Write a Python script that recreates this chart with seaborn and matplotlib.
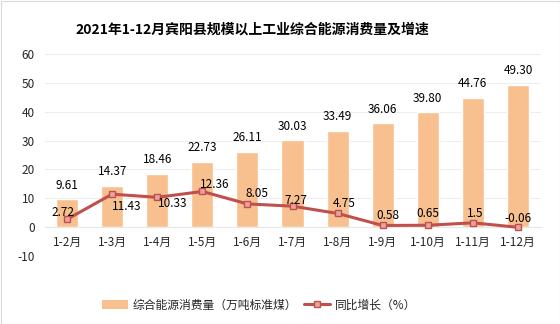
import numpy as np
import pandas as pd
import matplotlib
matplotlib.use("Agg")
import matplotlib.pyplot as plt
import seaborn as sns
from matplotlib.lines import Line2D
from matplotlib.patches import Patch

categories = ["1-2月", "1-3月", "1-4月", "1-5月", "1-6月", "1-7月", "1-8月", "1-9月", "1-10月", "1-11月", "1-12月"]
consumption = [9.61, 14.37, 18.46, 22.73, 26.11, 30.03, 33.49, 36.06, 39.80, 44.76, 49.30]
consumption_labels = ["9.61", "14.37", "18.46", "22.73", "26.11", "30.03", "33.49", "36.06", "39.80", "44.76", "49.30"]
growth = [2.72, 11.43, 10.33, 12.36, 8.05, 7.27, 4.75, 0.58, 0.65, 1.5, -0.06]
growth_labels = ["2.72", "11.43", "10.33", "12.36", "8.05", "7.27", "4.75", "0.58", "0.65", "1.5", "-0.06"]
# label offsets in pixels (dx, dy up) for growth labels
growth_offsets = [(-4, 7), (15, -12), (15, -6), (12, 7), (10, 10), (3, 6), (7, 10), (5, 10), (0, 12), (2, 9), (0, 9)]
yticks = [-10, 0, 10, 20, 30, 40, 50, 60]

title = "2021年1-12月宾阳县规模以上工业综合能源消费量及增速"
bar_name = "综合能源消费量（万吨标准煤）"
line_name = "同比增长（%）"

sns.set_theme(style="white")
plt.rcParams["font.family"] = ["Noto Sans CJK SC", "DejaVu Sans"]

BAR_C = "#F8C08F"
LINE_C = "#C0504D"
TXT_C = "#262626"

df = pd.DataFrame({"cat": categories, "val": consumption, "g": growth})
df["pos"] = np.arange(len(categories))

fig = plt.figure(figsize=(5.6, 3.24), dpi=100)
fig.patch.set_facecolor("white")
ax = fig.add_axes([44.5 / 560, 1 - 256 / 324, 496 / 560, (256 - 54) / 324])

sns.barplot(data=df, x="cat", y="val", order=categories, color=BAR_C, width=0.49,
            saturation=1, ax=ax, zorder=2)
sns.lineplot(data=df, x="pos", y="g", color=LINE_C, linewidth=2.2, marker="s",
             markersize=4.5, markerfacecolor="#E8A3A0", markeredgecolor=LINE_C,
             markeredgewidth=1.0, ax=ax, zorder=3)

ax.set_xlim(-0.5, len(categories) - 0.5)
ax.set_ylim(-10, 60)
ax.set_yticks(yticks)
ax.set_yticklabels([str(t) for t in yticks])
ax.yaxis.grid(True, color="#EEEEEE", linewidth=0.8, zorder=0)
ax.set_axisbelow(True)
for s in ["top", "right", "left"]:
    ax.spines[s].set_visible(False)
ax.spines["bottom"].set_position(("data", 0))
ax.spines["bottom"].set_color("#E8E8E8")
ax.spines["bottom"].set_linewidth(0.8)
ax.set_xticks(range(len(categories)))
ax.set_xticklabels(categories)
ax.tick_params(axis="x", length=0, pad=6, labelsize=8.5, labelcolor=TXT_C)
ax.tick_params(axis="y", length=0, pad=7, labelsize=8.5, labelcolor=TXT_C)
ax.set_xlabel("")
ax.set_ylabel("")

px = 0.72
for i, (v, lab) in enumerate(zip(consumption, consumption_labels)):
    ax.annotate(lab, (i, v), xytext=(0, 14 * px), textcoords="offset points",
                ha="center", va="center", fontsize=8.5, color="black", zorder=5)
for i, (v, lab, (dx, dy)) in enumerate(zip(growth, growth_labels, growth_offsets)):
    ax.annotate(lab, (i, v), xytext=(dx * px, dy * px), textcoords="offset points",
                ha="center", va="center", fontsize=8.5, color="black", zorder=5)

fig.text(252 / 560, 1 - 30 / 324, title, ha="center", va="center",
         fontsize=10, fontweight="bold", color="black")

handles = [Patch(facecolor=BAR_C, edgecolor="none"),
           Line2D([0], [0], color=LINE_C, linewidth=2.2, marker="s", markersize=4.5,
                  markerfacecolor="#E8A3A0", markeredgecolor=LINE_C)]
fig.legend(handles, [bar_name, line_name], loc="center", bbox_to_anchor=(259 / 560, 1 - 305 / 324),
           ncol=2, frameon=False, fontsize=8.5, handlelength=2.2, columnspacing=0.6,
           handletextpad=0.4, labelcolor=TXT_C)

fig.patches.append(plt.Rectangle((0.5 / 560, 0.5 / 324), 1 - 1 / 560, 1 - 1 / 324,
                                 transform=fig.transFigure, fill=False,
                                 edgecolor="#D9D9D9", linewidth=0.8))

fig.savefig("out.png", dpi=100)
